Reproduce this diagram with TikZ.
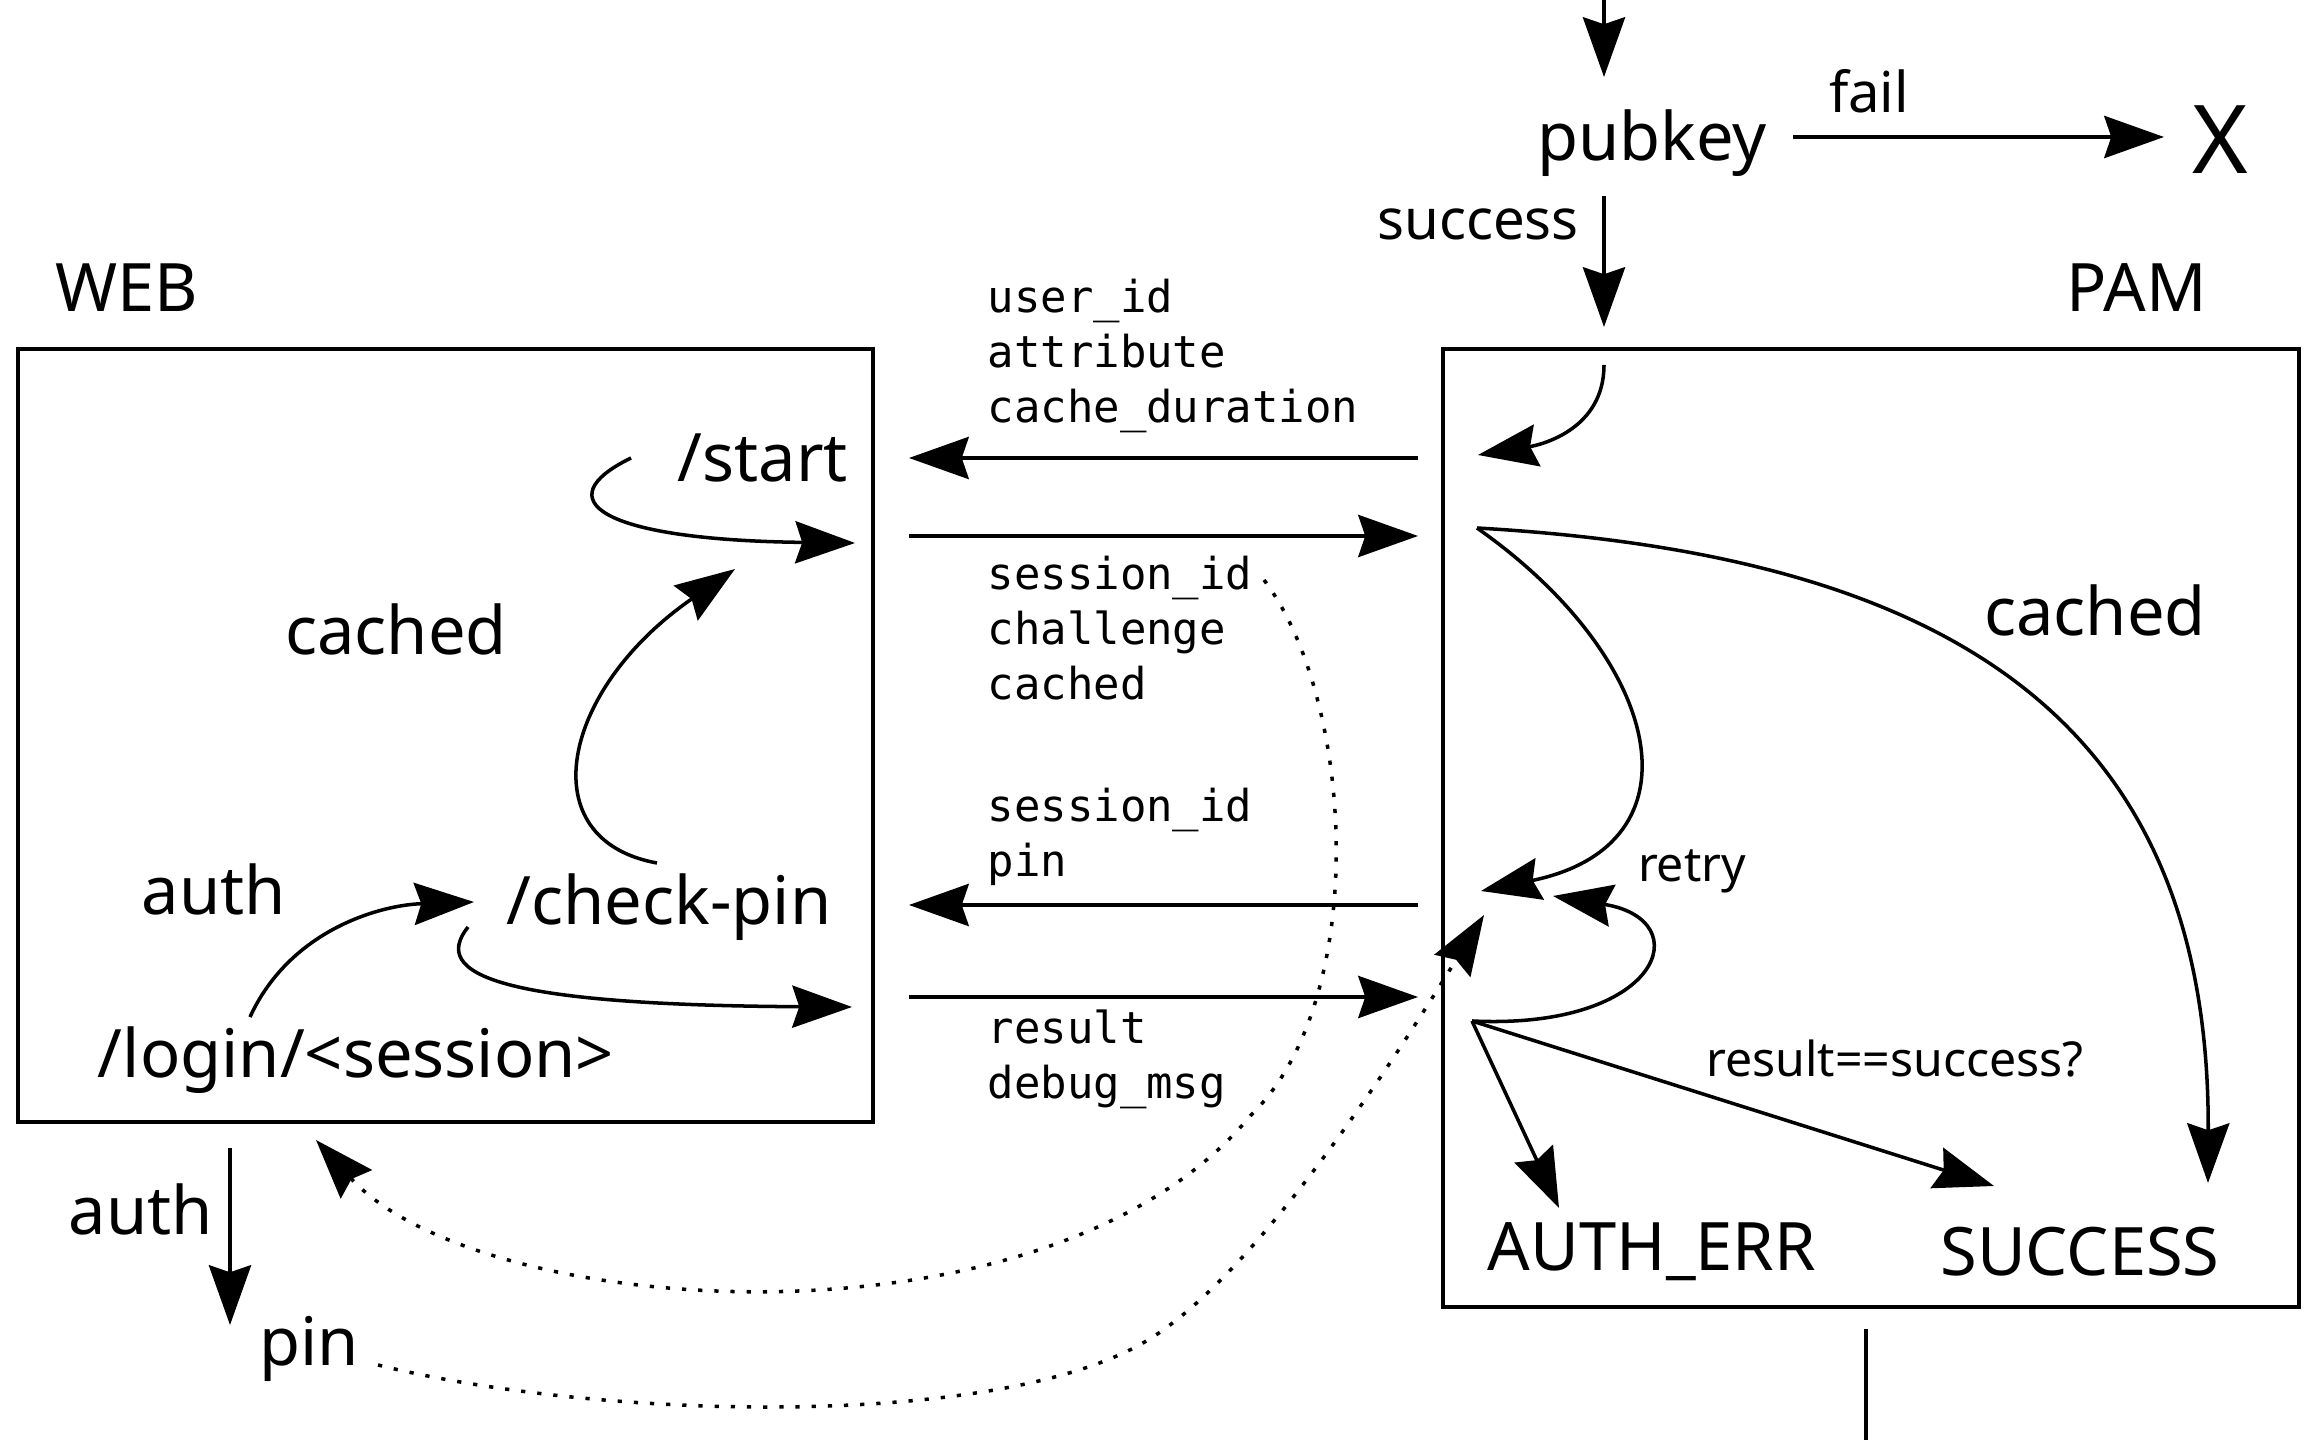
\documentclass[tikz,border=0pt]{standalone}
\usepackage{fontspec}
\setmainfont{Noto Sans}
\newfontfamily\codefont{DejaVu Sans Mono}
\usetikzlibrary{arrows.meta}

\tikzset{
  >={Stealth[length=17pt,width=12pt,inset=2pt]},
  flow/.style={->, line width=1pt},
  hint/.style={->, line width=1pt, dash pattern=on 1.2pt off 3.4pt},
  frame/.style={draw, line width=1.3pt},
  big/.style={inner sep=0pt, font=\fontsize{19}{23}\selectfont},
  mid/.style={inner sep=0pt, font=\fontsize{16}{19}\selectfont},
  small/.style={inner sep=0pt, font=\fontsize{13.7}{16}\selectfont},
  field/.style={inner sep=0pt, anchor=west, align=left,
                font=\codefont\fontsize{12.5}{15.65}\selectfont},
}

\begin{document}
\begin{tikzpicture}[x=0.01cm, y=-0.01cm]
  \useasboundingbox (0,0) rectangle (2308,1440);

  % Boxes
  \draw[frame] (18,349) rectangle (873,1122);
  \draw[frame] (1443,349) rectangle (2299,1307);
  \node[big] (web) at (127,288) {WEB};
  \node[big] (pam) at (2137,288) {PAM};

  % Key check
  \node[big] (pubkey) at (1652,143) {pubkey};
  \node[inner sep=0pt, font=\fontsize{27}{32}\selectfont] (X) at (2220,140) {X};
  \node[mid] (fail) at (1869,91) {fail};
  \node[mid] (succ) at (1478,224) {success};
  \coordinate (entry) at (1604,0);
  \coordinate (entryEnd) at (1604,77);
  \coordinate (succBeg) at (1604,196);
  \coordinate (succEnd) at (1604,327);
  \coordinate (failBeg) at (1793,137);
  \coordinate (failEnd) at (2164,137);
  \draw[flow] (entry) -- (entryEnd);
  \draw[flow] (succBeg) -- (succEnd);
  \draw[flow] (failBeg) -- (failEnd);

  % Web endpoints
  \node[big] (start) at (763,458) {/start};
  \node[big] (cachedW) at (396,629) {cached};
  \node[big] (authW) at (214,889) {auth};
  \node[big] (checkpin) at (669,907) {/check-pin};
  \node[big] (login) at (356,1060) {/login/<session>};
  \node[big] (authOut) at (141,1209) {auth};
  \node[big] (pin) at (309,1349) {pin};

  \draw[flow] (631,458) .. controls (545,500) and (600,540) .. (855,543);
  \draw[flow] (657,863) .. controls (530,840) and (560,690) .. (735,569);
  \draw[flow] (250,1017) .. controls (290,930) and (380,905) .. (474,902);
  \draw[flow] (468,927) .. controls (430,975) and (500,1005) .. (852,1007);
  \draw[flow] (230,1148) -- (230,1325);

  % Messages between web and pam
  \draw[flow, <-] (909,458) -- (1418,458);
  \draw[flow] (909,536) -- (1418,536);
  \draw[flow, <-] (909,905) -- (1418,905);
  \draw[flow] (909,997) -- (1418,997);
  \node[field] (toWeb) at (987,356) {user\_id\\attribute\\cache\_duration};
  \node[field] (toPam) at (987,628) {session\_id\\challenge\\cached};
  \node[field] (pinMsg) at (987,837) {session\_id\\pin};
  \node[field] (resMsg) at (987,1059) {result\\debug\_msg};

  % PAM states
  \node[big] (cachedP) at (2095,610) {cached};
  \node[small] (retry) at (1692,871) {retry};
  \node[small] (check) at (1895,1059) {result==success?};
  \node[big] (autherr) at (1652,1252) {AUTH\_ERR};
  \node[big] (success) at (2080,1252) {SUCCESS};
  \coordinate (fork) at (1477,528);
  \coordinate (judge) at (1472,1021);

  \draw[flow] (1604,365) .. controls (1604,430) and (1540,445) .. (1478,455);
  \draw[flow] (fork) .. controls (1665,660) and (1705,845) .. (1481,891);
  \draw[flow] (fork) .. controls (1950,555) and (2210,720) .. (2208,1183);
  \draw[flow] (judge) .. controls (1660,1030) and (1700,920) .. (1553,896);
  \draw[flow] (judge) -- (1559,1208);
  \draw[flow] (judge) -- (1994,1186);

  % Pin prompt round trip
  \draw[hint] (1264,580) .. controls (1355,700) and (1370,1000) .. (1251,1115)
    .. controls (1050,1360) and (480,1320) .. (316,1140);
  \draw[hint] (378,1365) .. controls (600,1420) and (1000,1430) .. (1148,1340)
    .. controls (1260,1272) and (1400,1050) .. (1484,915);

  % Continues below
  \draw[line width=1.1pt] (1866,1329) -- (1866,1440);
\end{tikzpicture}
\end{document}
